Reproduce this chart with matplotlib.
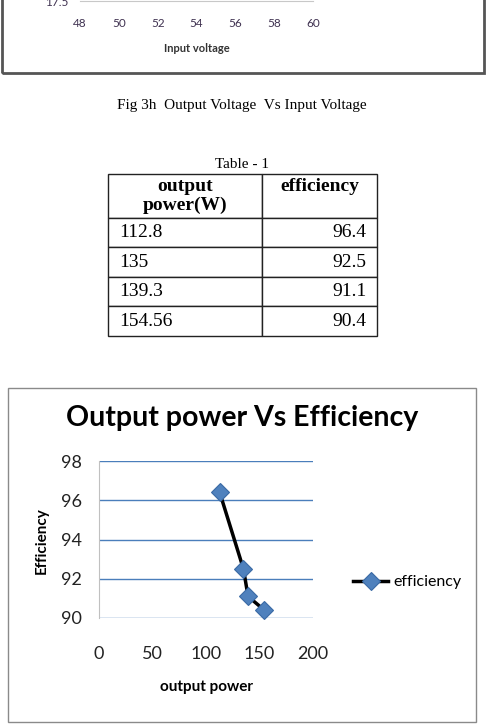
import matplotlib.pyplot as plt
from matplotlib.patches import Rectangle

W, H = 486, 724

# top (cut off) chart: only the x axis is visible
top_xticks = [48, 50, 52, 54, 56, 58, 60]
top_ytick = [17.5]

# Table - 1 / lower chart data
output_power = [112.8, 135, 139.3, 154.56]
efficiency = [96.4, 92.5, 91.1, 90.4]
power_labels = ['112.8', '135', '139.3', '154.56']
eff_labels = ['96.4', '92.5', '91.1', '90.4']
eff_ticks = [90, 92, 94, 96, 98]
power_ticks = [0, 50, 100, 150, 200]

chart_font = ['Lato', 'DejaVu Sans']
serif_font = ['Liberation Serif', 'DejaVu Serif']


def px(l, t, r, b):
    # pixel box (from top-left) -> figure fraction rect
    return [l / W, 1 - b / H, (r - l) / W, (b - t) / H]


def fx(x):
    return x / W


def fy(y):
    return 1 - y / H


fig = plt.figure(figsize=(W / 100, H / 100), dpi=100)
fig.patch.set_facecolor('white')

# ---- remains of the previous chart ----
fig.patches.append(Rectangle((fx(2), fy(73)), fx(484) - fx(2), fy(-20) - fy(73),
                             transform=fig.transFigure, fill=False,
                             edgecolor='#555555', lw=2))
ax0 = fig.add_axes(px(80, -30, 313, 1))
ax0.set_xlim(48, 60)
ax0.set_ylim(17.5, 18.0)
ax0.set_xticks(top_xticks)
ax0.set_yticks(top_ytick)
ax0.set_yticklabels(['17.5'])
ax0.tick_params(length=0, labelsize=8.5, colors='#3f3150', pad=12)
ax0.tick_params(axis='y', pad=8)
for s in ['top', 'right', 'left']:
    ax0.spines[s].set_visible(False)
ax0.spines['bottom'].set_color('#c8c8c8')
for t in ax0.get_xticklabels() + ax0.get_yticklabels():
    t.set_family(chart_font)
fig.text(fx(197), fy(48), 'Input voltage', ha='center', va='center',
         fontsize=8, fontweight='bold', color='#333333', family=chart_font)

fig.text(fx(242), fy(105), 'Fig 3h  Output Voltage  Vs Input Voltage',
         ha='center', va='center', fontsize=11, family=serif_font)

# ---- Table - 1 ----
fig.text(fx(242), fy(165), 'Table - 1', ha='center', va='center',
         fontsize=11, family=serif_font)
tax = fig.add_axes(px(108, 174, 377, 336))
tax.axis('off')
rows = [[p, e] for p, e in zip(power_labels, eff_labels)]
tbl = tax.table(cellText=rows, colLabels=['output\npower(W)', 'efficiency\n'],
                colWidths=[154 / 269, 115 / 269], bbox=[0, 0, 1, 1])
tbl.auto_set_font_size(False)
tbl.set_fontsize(14)
for (r, c), cell in tbl.get_celld().items():
    cell.set_edgecolor('#222222')
    cell.set_linewidth(1)
    txt = cell.get_text()
    txt.set_family(serif_font)
    if r == 0:
        cell.set_height(44)
        txt.set_horizontalalignment('center')
        txt.set_fontweight('bold')
        txt.set_linespacing(1.2)
    else:
        cell.set_height(29.5)
        cell.PAD = 0.07 if c == 0 else 0.09
        txt.set_horizontalalignment('left' if c == 0 else 'right')

# ---- Output power Vs Efficiency ----
fig.patches.append(Rectangle((fx(8), fy(722)), fx(476) - fx(8), fy(388) - fy(722),
                             transform=fig.transFigure, fill=False,
                             edgecolor='#8a8a8a', lw=1))
fig.text(fx(242), fy(418), 'Output power Vs Efficiency', ha='center', va='center',
         fontsize=20.5, fontweight='bold', family=chart_font)

ax = fig.add_axes(px(99, 461, 313, 618))
ax.set_xlim(0, 200)
ax.set_ylim(90, 98)
ax.set_xticks(power_ticks)
ax.set_yticks(eff_ticks)
ax.grid(axis='y', color='#4a7ebb', lw=1)
ax.set_axisbelow(True)
for s in ['top', 'right', 'bottom']:
    ax.spines[s].set_visible(False)
ax.spines['left'].set_color('#c0c0c0')
ax.tick_params(length=0, labelsize=13, colors='#222222')
ax.tick_params(axis='x', pad=20)
ax.tick_params(axis='y', pad=12)
for t in ax.get_xticklabels() + ax.get_yticklabels():
    t.set_family(chart_font)

ax.plot(output_power, efficiency, color='black', lw=2.5, marker='D', ms=9,
        mfc='#4f81bd', mec='#3a6aa5', mew=0.8, label='efficiency', clip_on=False)

fig.text(fx(206), fy(687), 'output power', ha='center', va='center',
         fontsize=11, fontweight='bold', family=chart_font)
fig.text(fx(42), fy(541), 'Efficiency', ha='center', va='center', rotation=90,
         fontsize=11, fontweight='bold', family=chart_font)

leg = fig.legend(loc='center left', bbox_to_anchor=(fx(353), fy(582)),
                 frameon=False, borderpad=0, borderaxespad=0, handletextpad=0.3,
                 handlelength=2.2, prop={'family': chart_font, 'size': 11.5})

fig.savefig('out.png', dpi=100)
